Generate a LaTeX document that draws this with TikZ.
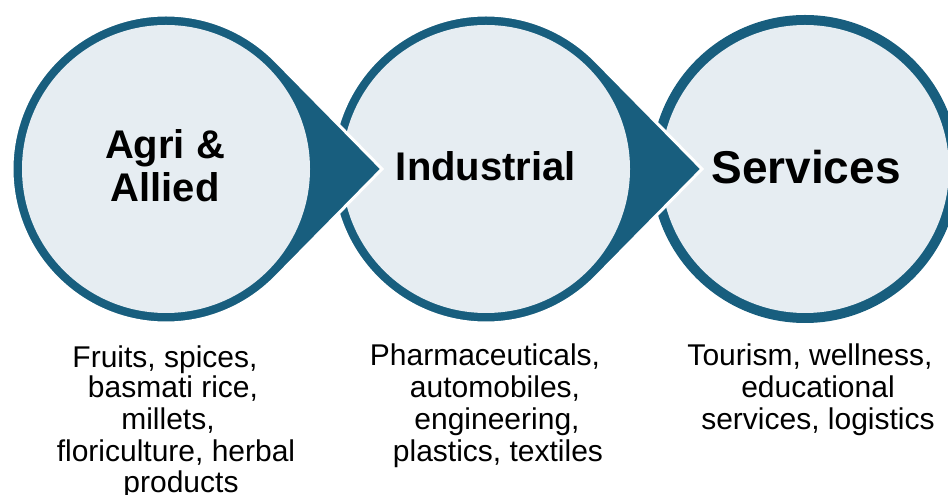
\documentclass[tikz,border=0pt]{standalone}
\usepackage{fontspec}
\setmainfont{Liberation Sans}
\usetikzlibrary{calc}
\definecolor{ringblue}{RGB}{24,94,126}
\definecolor{innerfill}{RGB}{230,237,242}
\tikzset{
  dropshape/.style={fill=ringblue, draw=white, line width=3pt, line join=miter},
  innerdisc/.style={circle, fill=innerfill, minimum size=288pt, inner sep=0pt},
  titletext/.style={anchor=base, inner sep=0pt, font=\bfseries\fontsize{40}{46}\selectfont},
  desctext/.style={anchor=base, inner sep=0pt, font=\fontsize{30}{32}\selectfont},
}
\begin{document}
\begin{tikzpicture}[x=1pt,y=1pt]
\useasboundingbox (0,0) rectangle (948,495);
% third circle (no visible arrow)
\fill[ringblue] (805,326) circle[radius=154];
\node[innerdisc] (c3) at (805,326) {};
% second teardrop
\coordinate (tip2) at (702,326);
\draw[dropshape] (tip2) -- ($(486,326)+(45:154)$) arc[start angle=45,end angle=315,radius=154] -- cycle;
\node[innerdisc] (c2) at (486,326) {};
% first teardrop
\coordinate (tip1) at (382,326);
\draw[dropshape] (tip1) -- ($(166,326)+(45:154)$) arc[start angle=45,end angle=315,radius=154] -- cycle;
\node[innerdisc] (c1) at (166,326) {};
% titles
\node[titletext] (t1a) at (165,336) {Agri \&};
\node[titletext] (t1b) at (165,293) {Allied};
\node[titletext] (t2) at (486,314) {Industrial};
\node[titletext, font=\bfseries\fontsize{46}{52}\selectfont] (t3) at (806,311) {Services};
% descriptions column 1
\node[desctext] (d1a) at (165,127.5) {Fruits, spices,};
\node[desctext] (d1b) at (173,97) {basmati rice,};
\node[desctext] (d1c) at (168,65) {millets,};
\node[desctext] (d1d) at (176,33) {floriculture, herbal};
\node[desctext] (d1e) at (181,2) {products};
% column 2
\node[desctext] (d2a) at (485,129) {Pharmaceuticals,};
\node[desctext] (d2b) at (495,97) {automobiles,};
\node[desctext] (d2c) at (497,65) {engineering,};
\node[desctext] (d2d) at (498,33) {plastics, textiles};
% column 3
\node[desctext] (d3a) at (810,129) {Tourism, wellness,};
\node[desctext] (d3b) at (818,97) {educational};
\node[desctext] (d3c) at (818,65) {services, logistics};
\end{tikzpicture}
\end{document}
